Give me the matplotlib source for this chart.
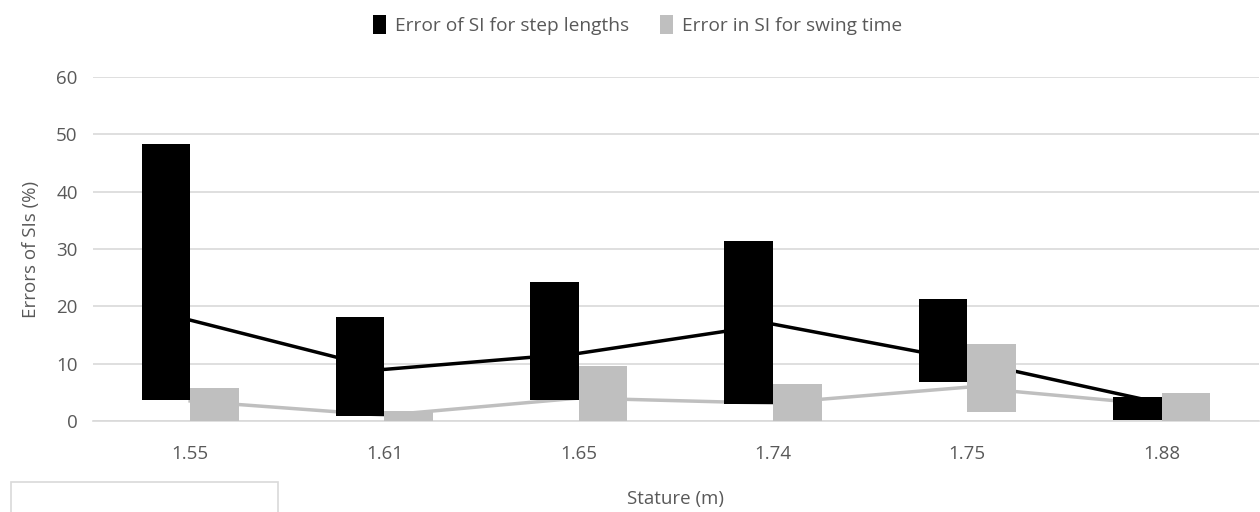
import numpy as np
import matplotlib.pyplot as plt
from matplotlib.patches import Rectangle

plt.rcParams['font.family'] = ['Open Sans', 'DejaVu Sans']

statures = ['1.55', '1.61', '1.65', '1.74', '1.75', '1.88']
# step length SI error: range (low-high) and line value
step_high = [48.3, 18.2, 24.3, 31.4, 21.3, 4.2]
step_low = [3.7, 0.8, 3.7, 3.0, 6.8, 0.2]
step_line = [17.6, 9.0, 11.8, 16.9, 10.5, 3.1]
# swing time SI error
swing_high = [5.8, 1.7, 9.6, 6.4, 13.4, 4.8]
swing_low = [0.0, 0.0, 0.0, 0.0, 1.6, 0.0]
swing_line = [3.5, 1.0, 4.0, 3.1, 5.9, 2.8]

text_col = '#595959'
grid_col = '#d9d9d9'

fig = plt.figure(figsize=(12.6, 5.12), dpi=100)
ax = fig.add_axes([0.0738, 0.1777, 0.9252, 0.672])

x = np.arange(len(statures))
w = 0.25
# lines sit behind the bars
ax.plot(x, step_line, color='black', lw=2.5, zorder=2)
ax.plot(x, swing_line, color='#bfbfbf', lw=2.5, zorder=2)

ax.bar(x - w / 2, np.array(step_high) - np.array(step_low), bottom=step_low,
       width=w, color='black', zorder=3, label='Error of SI for step lengths')
ax.bar(x + w / 2, np.array(swing_high) - np.array(swing_low), bottom=swing_low,
       width=w, color='#bfbfbf', zorder=3, label='Error in SI for swing time')

ax.set_xlim(-0.5, len(statures) - 0.5)
ax.set_ylim(0, 60)
ax.set_yticks(range(0, 61, 10))
ax.set_xticks(x)
ax.set_xticklabels(statures)
ax.grid(axis='y', color=grid_col, lw=1.2, zorder=0)
ax.set_axisbelow(True)
for s in ['top', 'right', 'left']:
    ax.spines[s].set_visible(False)
ax.spines['bottom'].set_color(grid_col)
ax.spines['bottom'].set_linewidth(1.2)
ax.tick_params(length=0, labelsize=13.5, colors=text_col)
ax.tick_params(axis='x', pad=17)
ax.tick_params(axis='y', pad=11)

ax.set_ylabel('Errors of SIs (%)', fontsize=13.5, color=text_col, labelpad=12)
ax.set_xlabel('Stature (m)', fontsize=13.5, color=text_col, labelpad=20)

fig.legend(loc='upper center', bbox_to_anchor=(0.506, 1.005), ncol=2, frameon=False,
           fontsize=13.8, labelcolor=text_col, handlelength=0.7, handleheight=1.2,
           handletextpad=0.45, columnspacing=1.6)

# stray frame in the lower left corner
fig.patches.append(Rectangle((0.009, -0.05), 0.212, 0.109, transform=fig.transFigure,
                             fill=False, edgecolor=grid_col, lw=1.2))

fig.savefig('out.png', dpi=100)
